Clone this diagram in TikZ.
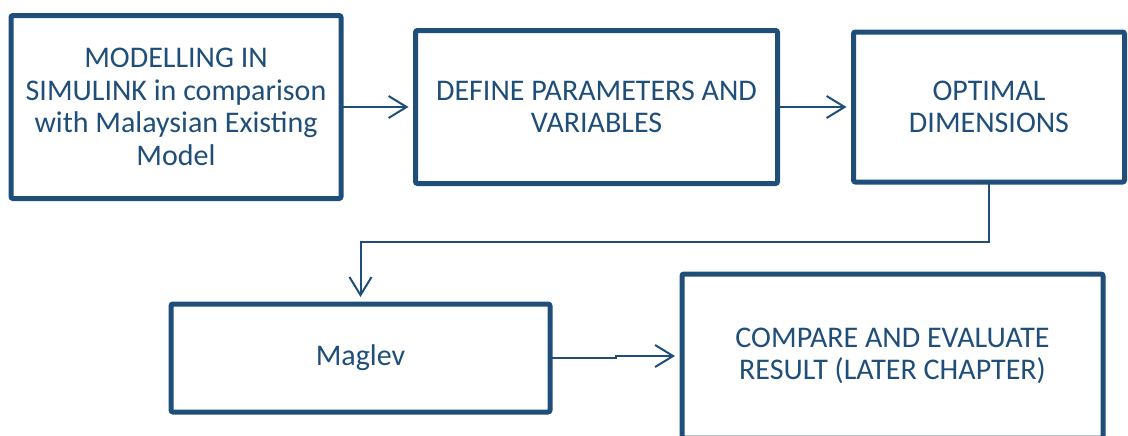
\documentclass[tikz,border=0pt]{standalone}
\usepackage{fontspec}
\setmainfont{Carlito}
\usetikzlibrary{arrows.meta,positioning}
\definecolor{flow}{HTML}{1F4E79}

\begin{document}
\begin{tikzpicture}[x=0.5pt, y=-0.5pt, every node/.style={font=\fontsize{15pt}{16.25pt}\selectfont, text=flow}, b/.style={draw=flow, line width=2.5pt, rounded corners=1pt, outer sep=0pt, align=center}, a/.style={-{Straight Barb[length=9pt, width=11pt]}, draw=flow, line width=1pt, shorten >=3.5pt}]
\useasboundingbox (0,0) rectangle (1128,435);
\clip (0,0) rectangle (1128,435);
\node[b, minimum width=165pt, minimum height=91.5pt] (model) at (176,107) {MODELLING IN\\SIMULINK in comparison\\with Malaysian Existing\\Model};
\node[b, minimum width=181pt, minimum height=76.5pt, right=37.25pt of model] (define) {DEFINE PARAMETERS AND\\VARIABLES};
\node[b, minimum width=135.5pt, minimum height=75pt, right=38pt of define] (optimal) {OPTIMAL\\DIMENSIONS};
\node[b, minimum width=189.5pt, minimum height=54pt] (maglev) at (360.5,358) {Maglev};
\node[b, minimum width=210.5pt, minimum height=82pt, right=66pt of maglev, yshift=1pt] (compare) {COMPARE AND EVALUATE\\RESULT (LATER CHAPTER)};
\draw[a] (model) -- (define); \draw[a] (define) -- (optimal);
\draw[a] (optimal.south) -- ++(0,60) -| (maglev.north);
\draw[a] (maglev.east) -- ++(66,0) |- (compare.west);
\end{tikzpicture}
\end{document}
